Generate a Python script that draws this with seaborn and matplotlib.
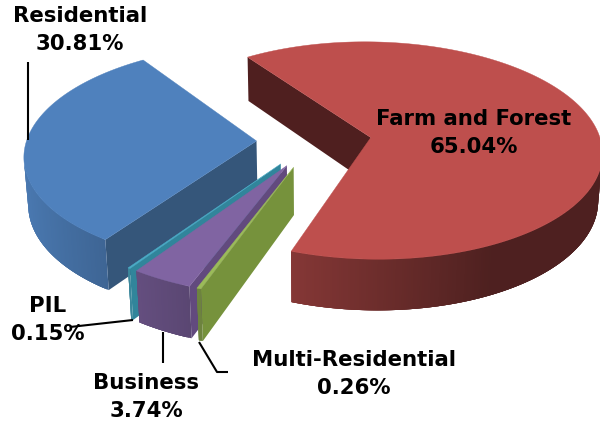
import numpy as np
import matplotlib
matplotlib.use("Agg")
import matplotlib.pyplot as plt
import seaborn as sns

# Land-use shares, listed clockwise from the start angle
categories = ["Farm and Forest", "Multi-Residential", "Business", "PIL", "Residential"]
shares = [65.04, 0.26, 3.74, 0.15, 30.81]

top_colors = ["#BE4F4D", "#9BBB59", "#8064A2", "#4BACC6", "#4F81BD"]
side_colors = ["#4F1F1F", "#76923C", "#624A7E", "#31859B", "#35567A"]

# Placement of each category's caption: x, y centre of the two lines
label_pos = {
    "Farm and Forest": (474, 133),
    "Multi-Residential": (354, 374),
    "Business": (146, 397),
    "PIL": (48, 320),
    "Residential": (80, 30),
}
leaders = [
    ([28, 28], [62, 140]),
    ([133, 70], [320, 327]),
    ([163, 163], [332, 363]),
    ([199, 217, 228], [342, 372, 372]),
]

# Camera and pie geometry for the 3-D projection
CX, CY = 314, 141
SCALE = 230
ELEV = np.radians(28)
DIST = 7.35
THICK = 0.235
EXPLODE = 0.25
START = 124.5


def project(x, y, z):
    """Perspective projection of pie coordinates to figure pixels."""
    depth = y * np.cos(ELEV) - z * np.sin(ELEV)
    s = DIST / (DIST + depth)
    return CX + SCALE * x * s, CY - SCALE * (y * np.sin(ELEV) + z * np.cos(ELEV)) * s


def signed_area(px, py):
    return 0.5 * np.sum(px * np.roll(py, -1) - np.roll(px, -1) * py)


def draw_quad(ax, xs, ys, zs, color):
    px, py = project(np.array(xs), np.array(ys), np.array(zs))
    # Faces turned away from the viewer are skipped
    if signed_area(px, py) > 0:
        return
    ax.fill(px, py, color=color, lw=0, zorder=1)


def shade(color, cos_n):
    f = np.clip(0.575 - 0.37 * cos_n, 0.41, 0.95)
    return tuple(c * f for c in matplotlib.colors.to_rgb(color))


sns.set_theme(style="white")
plt.rcParams["font.family"] = ["DejaVu Sans"]

fig = plt.figure(figsize=(6.0, 4.25), dpi=100)
ax = fig.add_axes([0, 0, 1, 1])
ax.set_xlim(0, 600)
ax.set_ylim(425, 0)
ax.axis("off")

palette = sns.color_palette(top_colors)
sides = sns.color_palette(side_colors)

# Angular extent of each slice, running clockwise
sweeps = np.array(shares) / sum(shares) * 360
ends = START - np.cumsum(sweeps)
begins = ends + sweeps
slices = list(zip(begins, ends, palette, sides))

# Back-to-front order: the two large slices first, then the narrow ones from left to right
for idx in [0, 4, 3, 2, 1]:
    a0, a1, col, side = slices[idx]
    mid = np.radians((a0 + a1) / 2)
    ox, oy = EXPLODE * np.cos(mid), EXPLODE * np.sin(mid)
    th = np.radians(np.linspace(a0, a1, max(int(sweeps[idx] * 2), 5)))
    rx, ry = ox + np.cos(th), oy + np.sin(th)

    # Radial walls at both ends of the slice
    draw_quad(ax, [ox, rx[0], rx[0], ox], [oy, ry[0], ry[0], oy],
              [0, 0, -THICK, -THICK], side)
    draw_quad(ax, [rx[-1], ox, ox, rx[-1]], [ry[-1], oy, oy, ry[-1]],
              [0, 0, -THICK, -THICK], side)

    # Curved outer wall: each strip runs on under its neighbour so no seams appear
    n = len(th)
    for i in range(n - 1):
        j = min(i + 4, n - 1)
        cos_n = np.cos((th[i] + th[i + 1]) / 2)
        seg = np.arange(i, j + 1)
        top_x, top_y = rx[seg], ry[seg]
        xs = np.r_[top_x, top_x[::-1]]
        ys = np.r_[top_y, top_y[::-1]]
        zs = np.r_[np.zeros(len(seg)), -THICK * np.ones(len(seg))]
        # Only strips on the visible front half of the rim
        if np.sin((th[i] + th[i + 1]) / 2) < 0.02:
            draw_quad(ax, xs, ys, zs, shade(col, cos_n))

    # Top face
    px, py = project(np.r_[ox, rx], np.r_[oy, ry], np.zeros(len(rx) + 1))
    ax.fill(px, py, color=col, lw=0.3, ec=col, zorder=1)

for lx, ly in leaders:
    ax.plot(lx, ly, color="black", lw=1.5, solid_capstyle="butt", zorder=2)

for name, share in zip(categories, shares):
    x, y = label_pos[name]
    ax.text(x, y, f"{name}\n{share:.2f}%", ha="center", va="center",
            fontsize=15.3, fontweight="bold", color="black",
            linespacing=1.45, zorder=3)

fig.savefig("out.png", dpi=100, facecolor="white")
